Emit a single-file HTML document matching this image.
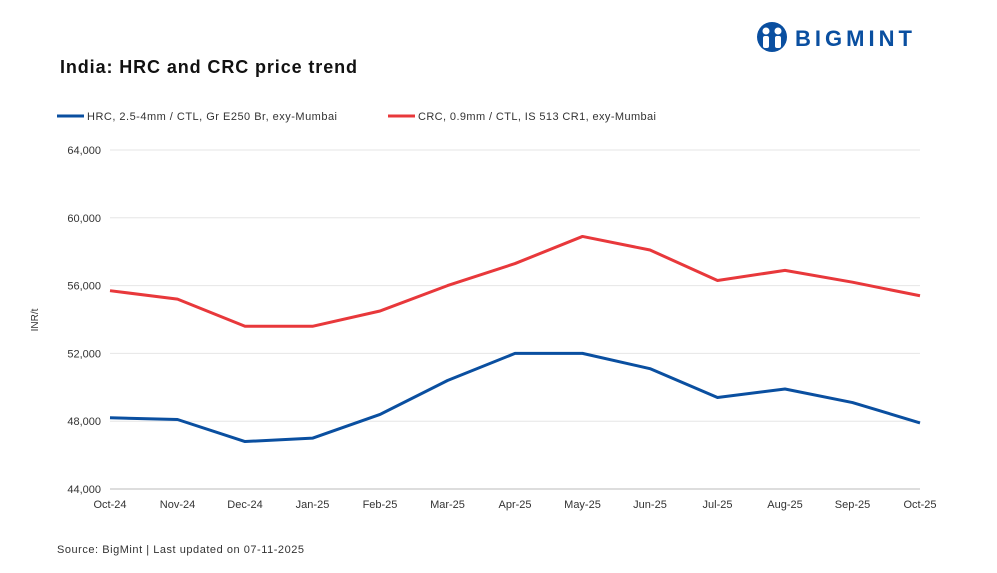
<!DOCTYPE html>
<html><head><meta charset="utf-8"><style>
body{margin:0;background:#fff;font-family:"Liberation Sans",sans-serif;}
#wrap{position:relative;width:997px;height:573px;overflow:hidden;background:#fff}
</style></head><body>
<div id="wrap">
<svg id="chart" width="997" height="573">
<g>
<circle cx="772" cy="37" r="15" fill="#0a4fa0"/>
<circle cx="766" cy="31" r="3.5" fill="#fff"/><circle cx="778" cy="31" r="3.5" fill="#fff"/>
<rect x="763" y="36" width="6" height="12" rx="2" fill="#fff"/><rect x="775" y="36" width="6" height="12" rx="2" fill="#fff"/>
<text x="795" y="46" font-size="22" font-weight="bold" fill="#0a4fa0" textLength="117" lengthAdjust="spacing">BIGMINT</text>
</g>
<text x="60" y="73" font-size="18" font-weight="bold" fill="#111" textLength="297">India: HRC and CRC price trend</text>
<g>
<line x1="57" y1="116" x2="84" y2="116" stroke="#0a4fa0" stroke-width="3"/>
<text x="87" y="120" font-size="11" fill="#333" textLength="250">HRC, 2.5-4mm / CTL, Gr E250 Br, exy-Mumbai</text>
<line x1="388" y1="116" x2="415" y2="116" stroke="#e8383b" stroke-width="3"/>
<text x="418" y="120" font-size="11" fill="#333" textLength="238">CRC, 0.9mm / CTL, IS 513 CR1, exy-Mumbai</text>
</g>
<text transform="translate(38,320) rotate(-90)" font-size="10" fill="#333" text-anchor="middle">INR/t</text>
<g id="grid"></g><g id="yticks"></g><g id="xticks"></g><g id="series"></g>
<text x="57" y="553" font-size="11" fill="#333" textLength="247">Source: BigMint | Last updated on  07-11-2025</text>
</svg>
</div>
<script>
const categories=["Oct-24","Nov-24","Dec-24","Jan-25","Feb-25","Mar-25","Apr-25","May-25","Jun-25","Jul-25","Aug-25","Sep-25","Oct-25"];
const hrcValues=[48200,48100,46800,47000,48400,50400,52000,52000,51100,49400,49900,49100,47900];
const crcValues=[55700,55200,53600,53600,54500,56000,57300,58900,58100,56300,56900,56200,55400];
const yTicks=[44000,48000,52000,56000,60000,64000];
const NS="http://www.w3.org/2000/svg";
const x0=110,x1=920,y0=489,y1=150,ymin=44000,ymax=64000;
const xs=i=>x0+(x1-x0)*i/(categories.length-1);
const ys=v=>y0-(v-ymin)/(ymax-ymin)*(y0-y1);
function mk(t,a,p){const e=document.createElementNS(NS,t);for(const k in a)e.setAttribute(k,a[k]);p.appendChild(e);return e;}
const grid=document.getElementById('grid'),yt=document.getElementById('yticks'),xt=document.getElementById('xticks'),se=document.getElementById('series');
yTicks.forEach(v=>{
 const l=mk('line',{x1:x0,x2:x1,y1:ys(v),y2:ys(v),stroke:v===ymin?'#bbb':'#e6e6e6','stroke-width':1},grid);
 
 
 const t=mk('text',{x:101,y:ys(v)+4,'font-size':11,fill:'#333','text-anchor':'end'},yt);
 t.textContent=v.toLocaleString('en-US');
 
 
});
categories.forEach((c,i)=>{
 const t=mk('text',{x:xs(i),y:508,'font-size':11,fill:'#333','text-anchor':'middle'},xt);
 t.textContent=c;
 
 
});
function line(vals,col,name){
 const p=mk('polyline',{points:vals.map((v,i)=>xs(i)+','+ys(v)).join(' '),fill:'none',stroke:col,'stroke-width':3,'stroke-linejoin':'round'},se);
 
 
}
line(hrcValues,'#0a4fa0','hrc-line');
line(crcValues,'#e8383b','crc-line');
</script>
</body></html>
